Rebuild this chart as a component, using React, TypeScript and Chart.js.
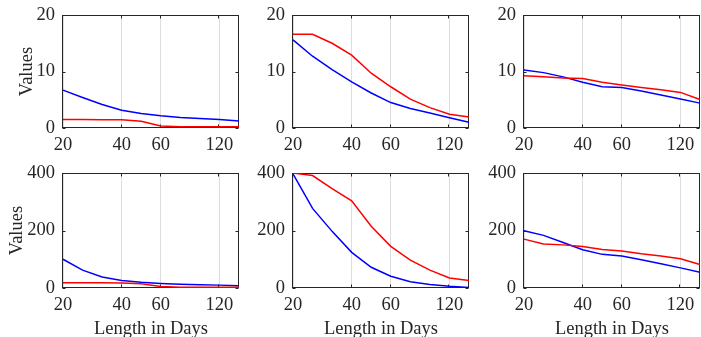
import React, { useEffect, useRef } from "react";
import { Chart, registerables } from "chart.js";

Chart.register(...registerables);

// ---- data ----
const days = ["20", "25", "30", "40", "50", "60", "75", "90", "120", "150"];
const shownDays = ["20", "40", "60", "120"];
const topYTicks = [0, 10, 20];
const bottomYTicks = [0, 200, 400];

const p1Blue = [6.7, 5.4, 4.15, 3.15, 2.55, 2.15, 1.85, 1.67, 1.5, 1.25];
const p1Red = [1.5, 1.5, 1.48, 1.45, 1.2, 0.35, 0.22, 0.22, 0.22, 0.22];
const p2Blue = [15.6, 12.7, 10.35, 8.15, 6.2, 4.5, 3.45, 2.65, 1.8, 1.0];
const p2Red = [16.6, 16.6, 15.0, 12.9, 9.7, 7.3, 5.1, 3.6, 2.45, 1.95];
const p3Blue = [10.25, 9.8, 9.05, 8.1, 7.3, 7.15, 6.55, 5.85, 5.15, 4.4];
const p3Red = [9.25, 9.05, 8.85, 8.75, 8.1, 7.6, 7.15, 6.75, 6.3, 5.05];
const p4Blue = [100, 62, 38, 26, 20, 16, 13, 11, 10, 8];
const p4Red = [18, 18, 18, 17, 15, 5, 3, 3, 3, 3];
const p5Blue = [397, 277, 197, 124, 72, 41, 22, 12, 6, 2];
const p5Red = [400, 391, 346, 303, 215, 145, 97, 62, 35, 26];
const p6Blue = [199, 183, 158, 133, 117, 111, 98, 84, 70, 55];
const p6Red = [170, 153, 150, 144, 134, 129, 119, 111, 102, 82];

const yLabel = "Values";
const xLabel = "Length in Days";

// ---- layout ----
const W = 701;
const H = 337;
const cols = [
  { left: 63, right: 239 },
  { left: 293, right: 469 },
  { left: 524, right: 700 },
];
const rows = [
  { top: 15, bottom: 128 },
  { top: 173, bottom: 288 },
];

const FONT = "'Liberation Serif', 'Times New Roman', serif";
const TXT = "#262626";
const RED = "#ff0000";
const BLUE = "#0000ff";

type PanelDef = {
  row: number;
  col: number;
  red: number[];
  blue: number[];
  yTicks: number[];
};

const panels: PanelDef[] = [
  { row: 0, col: 0, red: p1Red, blue: p1Blue, yTicks: topYTicks },
  { row: 0, col: 1, red: p2Red, blue: p2Blue, yTicks: topYTicks },
  { row: 0, col: 2, red: p3Red, blue: p3Blue, yTicks: topYTicks },
  { row: 1, col: 0, red: p4Red, blue: p4Blue, yTicks: bottomYTicks },
  { row: 1, col: 1, red: p5Red, blue: p5Blue, yTicks: bottomYTicks },
  { row: 1, col: 2, red: p6Red, blue: p6Blue, yTicks: bottomYTicks },
];

const framePlugin = {
  id: "frame",
  beforeDatasetsDraw(chart: any) {
    const { ctx, chartArea: a, scales } = chart;
    const x = scales.x;
    const y = scales.y;
    const L = Math.round(a.left) - 0.5;
    const R = Math.round(a.right) - 0.5;
    const T = Math.round(a.top) + 0.5;
    const B = Math.round(a.bottom) - 0.5;
    ctx.save();
    ctx.strokeStyle = TXT;
    ctx.lineWidth = 1;
    ctx.strokeRect(L, T, R - L, B - T);
    const tl = 3;
    ctx.beginPath();
    for (const t of x.ticks) {
      const px = Math.round(x.getPixelForValue(t.value)) - 0.5;
      ctx.moveTo(px, B);
      ctx.lineTo(px, B - tl);
      ctx.moveTo(px, T);
      ctx.lineTo(px, T + tl);
    }
    for (const t of y.ticks) {
      const py = Math.round(y.getPixelForValue(t.value)) + 0.5;
      ctx.moveTo(L, py);
      ctx.lineTo(L + tl, py);
      ctx.moveTo(R, py);
      ctx.lineTo(R - tl, py);
    }
    ctx.stroke();
    ctx.restore();
  },
};

function Panel({ p }: { p: PanelDef }) {
  const ref = useRef<HTMLCanvasElement>(null);
  useEffect(() => {
    const c = cols[p.col];
    const r = rows[p.row];
    const showY = p.col === 0;
    const showX = p.row === 1;
    const yW = 63;
    const xH = showX ? 49 : 30;
    const yMax = p.yTicks[p.yTicks.length - 1];
    const chart = new Chart(ref.current as HTMLCanvasElement, {
      type: "line",
      data: {
        labels: days,
        datasets: [
          {
            data: p.red,
            borderColor: RED,
            backgroundColor: RED,
            borderWidth: 1.5,
            pointRadius: 0,
            tension: 0,
          },
          {
            data: p.blue,
            borderColor: BLUE,
            backgroundColor: BLUE,
            borderWidth: 1.5,
            pointRadius: 0,
            tension: 0,
          },
        ],
      },
      options: {
        responsive: false,
        animation: false,
        events: [],
        layout: {
          padding: {
            left: c.left - yW,
            right: W - c.right,
            top: r.top,
            bottom: H - r.bottom - xH,
          },
        },
        plugins: {
          legend: { display: false },
          tooltip: { enabled: false },
        },
        scales: {
          x: {
            type: "category",
            offset: false,
            border: { display: false },
            grid: {
              display: true,
              color: "#dedede",
              lineWidth: 1,
              drawTicks: false,
              offset: false,
            },
            ticks: {
              autoSkip: false,
              maxRotation: 0,
              padding: 6,
              color: TXT,
              font: { family: FONT, size: 18.5 },
            },
            title: {
              display: showX,
              text: xLabel,
              color: TXT,
              font: { family: FONT, size: 18.5, lineHeight: 0.83 },
              padding: 0,
            },
            afterBuildTicks: (scale: any) => {
              scale.ticks = scale.ticks.filter((t: any) =>
                shownDays.includes(days[t.value])
              );
            },
            afterFit: (scale: any) => {
              scale.height = xH;
              scale.paddingLeft = 0;
              scale.paddingRight = 0;
            },
          },
          y: {
            type: "linear",
            min: 0,
            max: yMax,
            border: { display: false },
            grid: { display: false, drawTicks: false },
            ticks: {
              padding: 8,
              color: TXT,
              font: { family: FONT, size: 18.5 },
            },
            title: {
              display: showY,
              text: yLabel,
              color: TXT,
              font: { family: FONT, size: 18.5, lineHeight: 1 },
              padding: { top: p.row === 0 ? 17.75 : 7.75, bottom: 0 },
            },
            afterBuildTicks: (scale: any) => {
              scale.ticks = p.yTicks.map((v) => ({ value: v }));
            },
            afterFit: (scale: any) => {
              scale.width = yW;
              scale.paddingTop = 0;
              scale.paddingBottom = 0;
            },
          },
        },
      },
      plugins: [framePlugin],
    } as any);
    return () => chart.destroy();
  }, [p]);
  return (
    <canvas
      ref={ref}
      width={W}
      height={H}
      style={{ position: "absolute", left: 0, top: 0, width: W, height: H }}
    />
  );
}

export default function App() {
  return (
    <div
      style={{
        position: "absolute",
        left: 0,
        top: 0,
        width: W,
        height: H,
        background: "#ffffff",
        overflow: "hidden",
      }}
    >
      {panels.map((p, i) => (
        <Panel key={i} p={p} />
      ))}
    </div>
  );
}
